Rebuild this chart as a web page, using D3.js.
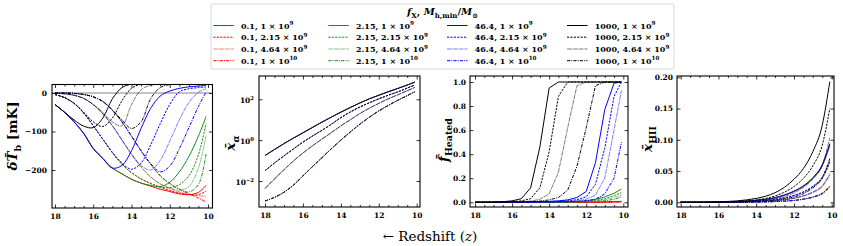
<!DOCTYPE html>
<html><head><meta charset="utf-8">
<script src="https://cdn.jsdelivr.net/npm/d3@7"></script>
<style>body{margin:0;background:#fff}svg{display:block}</style>
</head><body>
<svg id="c" width="843" height="246"></svg>
<script>
// ---------------- DATA ----------------
const redshift = [18,17.5,17,16.5,16,15.5,15,14.5,14,13.5,13,12.5,12,11.5,11,10.5,10.1];
const fXLabels = ["0.1","2.15","46.4","1000"];
const mMinMantissa = ["1","2.15","4.64","1"];
const mMinExponent = ["9","9","9","10"];

// delta T_b [mK]; rows: Mmin = 1e9, 2.15e9, 4.64e9, 1e10
const dTb_fX0p1 = [
 [-30,-50,-75,-105,-144,-170,-195,-210,-224,-234,-242,-250,-256,-262,-264,-258,-240],
 [-4,-12,-27,-52,-85,-120,-155,-185,-207,-223,-235,-245,-253,-260,-264,-264,-255],
 [-1,-2,-6,-14,-30,-54,-85,-122,-160,-192,-218,-236,-248,-257,-263,-267,-268],
 [0,0,-1,-4,-10,-22,-45,-75,-112,-150,-185,-215,-235,-250,-262,-273,-283]];
const dTb_fX2p15 = [
 [-30,-50,-75,-105,-144,-170,-195,-210,-224,-234,-240,-243,-232,-205,-165,-112,-61],
 [-4,-12,-27,-52,-85,-120,-155,-185,-207,-223,-235,-244,-246,-238,-215,-160,-79],
 [-1,-2,-6,-14,-30,-54,-85,-122,-160,-192,-218,-236,-247,-252,-243,-195,-110],
 [0,0,-1,-4,-10,-22,-45,-75,-112,-150,-185,-215,-235,-250,-257,-238,-157]];
const dTb_fX46p4 = [
 [-30,-50,-75,-105,-144,-170,-195,-188,-150,-92,-40,-8,5,12,16,18,20],
 [-4,-12,-27,-52,-85,-120,-154,-182,-198,-182,-135,-80,-30,3,11,14,16],
 [-1,-2,-6,-14,-30,-54,-85,-122,-158,-188,-200,-175,-125,-70,-25,2,11],
 [0,0,-1,-4,-10,-22,-45,-75,-112,-150,-183,-205,-190,-145,-90,-35,3]];
const dTb_fX1000 = [
 [-30,-50,-70,-86,-90,-65,-15,14,23,25,26,26,26,25,25,24,23],
 [-4,-12,-27,-50,-75,-87,-65,-20,12,23,25,26,26,25,25,24,23],
 [-1,-2,-6,-14,-30,-50,-75,-85,-30,8,20,24,25,25,25,24,23],
 [0,0,-1,-4,-10,-22,-44,-70,-92,-75,-15,14,22,25,25,24,23]];

// x_alpha (independent of fX); rows: Mmin
const xAlpha = [
 [0.178,0.347,0.676,1.26,2.29,4.17,7.59,13.5,23.4,39.8,66.1,105,158,234,339,501,692],
 [0.0316,0.0759,0.17,0.372,0.794,1.58,3.02,6.03,12.6,24.0,41.7,67.6,105,158,229,355,501],
 [0.00427,0.0126,0.0355,0.0955,0.234,0.525,1.12,2.34,5.01,10,20,36.3,63.1,105,166,263,380],
 [0.00105,0.00158,0.00282,0.00631,0.0178,0.0501,0.138,0.38,1.0,2.51,6.03,13.2,26.9,50.1,89.1,151,234]];

// f_Heated
const fHeated_fX0p1 = [
 [0,0,0,0,0,0,0,0,0,0,0,0,0.001,0.002,0.003,0.005,0.008],
 [0,0,0,0,0,0,0,0,0,0,0,0,0,0.001,0.002,0.004,0.006],
 [0,0,0,0,0,0,0,0,0,0,0,0,0,0.001,0.001,0.003,0.004],
 [0,0,0,0,0,0,0,0,0,0,0,0,0,0,0.001,0.002,0.003]];
const fHeated_fX2p15 = [
 [0,0,0,0,0,0,0,0.001,0.002,0.003,0.004,0.006,0.012,0.025,0.045,0.075,0.11],
 [0,0,0,0,0,0,0,0,0.001,0.002,0.003,0.005,0.009,0.017,0.03,0.055,0.08],
 [0,0,0,0,0,0,0,0,0,0.001,0.002,0.004,0.007,0.012,0.02,0.04,0.06],
 [0,0,0,0,0,0,0,0,0,0,0.001,0.002,0.004,0.007,0.012,0.025,0.045]];
const fHeated_fX46p4 = [
 [0,0,0,0,0.001,0.002,0.003,0.005,0.008,0.012,0.02,0.04,0.09,0.33,0.77,0.99,1.0],
 [0,0,0,0,0,0.001,0.002,0.003,0.005,0.008,0.013,0.022,0.045,0.15,0.45,0.88,1.0],
 [0,0,0,0,0,0,0.001,0.002,0.003,0.005,0.008,0.013,0.025,0.06,0.2,0.6,0.93],
 [0,0,0,0,0,0,0,0.001,0.002,0.003,0.005,0.008,0.013,0.025,0.07,0.2,0.5]];
const fHeated_fX1000 = [
 [0,0,0.002,0.005,0.012,0.03,0.12,0.46,0.95,1,1,1,1,1,1,1,1],
 [0,0,0.001,0.002,0.005,0.012,0.03,0.12,0.42,0.88,1,1,1,1,1,1,1],
 [0,0,0,0.001,0.002,0.005,0.01,0.025,0.07,0.25,0.62,0.97,1,1,1,1,1],
 [0,0,0,0,0.001,0.002,0.005,0.01,0.02,0.04,0.1,0.3,0.62,0.97,1,1,1]];

// x_HII
const xHII_fX0p1 = [
 [0,0,0.0001,0.0002,0.0004,0.0006,0.0011,0.0018,0.0029,0.0046,0.0073,0.0114,0.0173,0.0255,0.0382,0.0582,0.091],
 [0,0,0,0.0001,0.0002,0.0003,0.0006,0.001,0.0016,0.0026,0.0043,0.0068,0.0106,0.0161,0.0246,0.0384,0.063],
 [0,0,0,0,0.0001,0.0002,0.0003,0.0005,0.0009,0.0014,0.0024,0.0039,0.0062,0.0099,0.0155,0.0249,0.043],
 [0,0,0,0,0,0,0.0001,0.0002,0.0003,0.0006,0.0011,0.0018,0.0029,0.0048,0.0079,0.0134,0.024]];
const xHII_fX2p15 = [
 [0,0,0.0001,0.0002,0.0004,0.0006,0.0011,0.0018,0.0029,0.0046,0.0074,0.0115,0.0175,0.0258,0.0386,0.0589,0.092],
 [0,0,0,0.0001,0.0002,0.0004,0.0006,0.001,0.0017,0.0027,0.0044,0.0069,0.0108,0.0163,0.025,0.039,0.064],
 [0,0,0,0,0.0001,0.0002,0.0003,0.0005,0.0009,0.0015,0.0025,0.004,0.0064,0.0101,0.0158,0.0255,0.044],
 [0,0,0,0,0,0,0.0001,0.0002,0.0004,0.0006,0.0011,0.0019,0.003,0.005,0.0083,0.014,0.025]];
const xHII_fX46p4 = [
 [0,0,0.0001,0.0002,0.0004,0.0007,0.0011,0.0019,0.003,0.0047,0.0075,0.0118,0.0179,0.0263,0.0395,0.0602,0.094],
 [0,0,0,0.0001,0.0002,0.0004,0.0006,0.0011,0.0017,0.0028,0.0045,0.0071,0.0111,0.0168,0.0257,0.0403,0.066],
 [0,0,0,0,0.0001,0.0002,0.0003,0.0006,0.0009,0.0015,0.0026,0.0041,0.0067,0.0106,0.0166,0.0267,0.046],
 [0,0,0,0,0,0,0.0001,0.0002,0.0004,0.0007,0.0012,0.002,0.0031,0.0052,0.0086,0.0146,0.026]];
const xHII_fX1000 = [
 [0,0.0001,0.0002,0.0004,0.0008,0.0014,0.0023,0.0039,0.0062,0.0097,0.0154,0.0241,0.0367,0.054,0.081,0.1235,0.193],
 [0,0,0.0001,0.0002,0.0005,0.0008,0.0014,0.0024,0.0039,0.0063,0.0102,0.0162,0.0252,0.0383,0.0585,0.0915,0.15],
 [0,0,0,0.0001,0.0002,0.0004,0.0007,0.0012,0.0021,0.0034,0.0058,0.0093,0.0149,0.0237,0.0371,0.0597,0.103],
 [0,0,0,0,0.0001,0.0001,0.0003,0.0006,0.001,0.0018,0.0032,0.0053,0.0084,0.014,0.0231,0.0392,0.07]];

// tick labels
const xTickValues = [18,16,14,12,10];
const dTbTicks = [0,-100,-200];
const xAlphaTicks = [1e-2,1,1e2];
const fHeatedTicks = [0,0.2,0.4,0.6,0.8,1.0];
const xHIITicks = [0,0.05,0.10,0.15,0.20];

// ---------------- STYLE / LAYOUT ----------------
const colors = ["#ff0000","#1a8a1a","#0000ff","#000000"];
const lineStyles = [
  {dash:null, op:1},
  {dash:"2.2,1.2", op:1},
  {dash:"5,0.8", op:0.5},
  {dash:"3.2,1.1,1,1.1", op:1}
];
const tickFont = "'DejaVu Serif', serif";
const svg = d3.select("#c");
const defs = svg.append("defs");

function rich(textSel, parts, fs){
  let shift = 0;
  parts.forEach(p=>{
    const t = textSel.append("tspan").text(p.t);
    if(p.i) t.attr("font-style","italic");
    let target = 0, size = fs;
    if(p.sub){ target = fs*0.28; size = fs*0.7; }
    if(p.sup){ target = -fs*0.42; size = fs*0.7; }
    t.attr("font-size", size);
    if(target !== shift){ t.attr("dy", target - shift); shift = target; }
  });
}

const panelDefs = [
  {id:"p1", L:52, R:212.5, T:84.5, B:208, x18:55, x10:208,
   y: d3.scaleLinear().domain([0,-200]).range([93,170]),
   ticks:dTbTicks, fmt:d3.format("d"), padL:5,
   sets:[dTb_fX0p1,dTb_fX2p15,dTb_fX46p4,dTb_fX1000], curve:d3.curveCatmullRom.alpha(0.5)},
  {id:"p2", L:259, R:420, T:76, B:207, x18:265, x10:416.7,
   y: d3.scaleLog().domain([1e-2,1e2]).range([181,99.3]),
   ticks:xAlphaTicks, fmt:null, padL:5,
   sets:[xAlpha,xAlpha,xAlpha,xAlpha], curve:d3.curveCatmullRom.alpha(0.5)},
  {id:"p3", L:470, R:628, T:76, B:207, x18:475, x10:623.3,
   y: d3.scaleLinear().domain([0,1]).range([202.3,82]),
   ticks:fHeatedTicks, fmt:d3.format(".1f"), padL:4,
   sets:[fHeated_fX0p1,fHeated_fX2p15,fHeated_fX46p4,fHeated_fX1000], curve:d3.curveLinear},
  {id:"p4", L:677, R:834, T:76, B:207, x18:680.7, x10:831.7,
   y: d3.scaleLinear().domain([0,0.2]).range([202.3,77.3]),
   ticks:xHIITicks, fmt:d3.format(".2f"), padL:4,
   sets:[xHII_fX0p1,xHII_fX2p15,xHII_fX46p4,xHII_fX1000], curve:d3.curveMonotoneX}
];

panelDefs.forEach(P=>{
  const x = d3.scaleLinear().domain([18,10]).range([P.x18,P.x10]);
  const y = P.y;
  const g = svg.append("g");
  defs.append("clipPath").attr("id","clip-"+P.id)
    .append("rect").attr("x",P.L).attr("y",P.T).attr("width",P.R-P.L).attr("height",P.B-P.T);
  const plot = g.append("g").attr("clip-path","url(#clip-"+P.id+")");

  if(P.id==="p1"){
    plot.append("line").attr("x1",P.L).attr("x2",P.R).attr("y1",y(0)).attr("y2",y(0))
      .attr("stroke","#9a9a9a").attr("stroke-width",1.4).attr("opacity",0.8);
  }
  const line = d3.line().x((d,i)=>x(redshift[i])).y(d=>y(d)).curve(P.curve);
  P.sets.forEach((set,ci)=>{
    set.forEach((vals,mi)=>{
      const st = lineStyles[mi];
      plot.append("path").attr("d", line(vals)).attr("fill","none")
        .attr("stroke",colors[ci]).attr("stroke-width",1)
        .attr("stroke-opacity", P.id==="p2" ? 0.7*st.op : st.op)
        .attr("stroke-dasharray", st.dash);
    });
  });

  // axes (inward ticks on all sides)
  const minor = d3.range(10,18.01,0.5).filter(v=>!xTickValues.includes(v));
  const axB = d3.axisBottom(x).tickValues(xTickValues).tickSize(-3.5).tickPadding(6).tickFormat(d3.format("d"));
  const axBm = d3.axisBottom(x).tickValues(minor).tickSize(-2).tickFormat("");
  const axT = d3.axisTop(x).tickValues(xTickValues).tickSize(-3.5).tickFormat("");
  const axTm = d3.axisTop(x).tickValues(minor).tickSize(-2).tickFormat("");
  const axL = d3.axisLeft(y).tickValues(P.ticks).tickSize(-3.5).tickPadding(P.padL);
  if(P.fmt) axL.tickFormat(P.fmt); else axL.tickFormat("");
  const axR = d3.axisRight(y).tickValues(P.ticks).tickSize(-3.5).tickFormat("");
  g.append("g").attr("transform",`translate(0,${P.B})`).call(axB);
  g.append("g").attr("transform",`translate(0,${P.B})`).call(axBm);
  g.append("g").attr("transform",`translate(0,${P.T})`).call(axT);
  g.append("g").attr("transform",`translate(0,${P.T})`).call(axTm);
  const gL = g.append("g").attr("transform",`translate(${P.L},0)`).call(axL);
  g.append("g").attr("transform",`translate(${P.R},0)`).call(axR);
  g.selectAll(".domain").remove();
  g.selectAll(".tick line").attr("stroke","#000").attr("stroke-width",0.8);
  g.selectAll(".tick text").attr("font-family",tickFont).attr("font-weight","bold")
    .attr("font-size",7.5).attr("fill","#000");
  if(!P.fmt){
    gL.selectAll(".tick text").each(function(d){
      const t = d3.select(this);
      const e = Math.round(Math.log10(d));
      rich(t, [{t:"10"},{t:String(e).replace("-","−"),sup:true}], 7.5);
      t.attr("dy","0.45em");
    });
  }
  g.append("rect").attr("x",P.L).attr("y",P.T).attr("width",P.R-P.L).attr("height",P.B-P.T)
    .attr("fill","none").attr("stroke","#000").attr("stroke-width",1.1);
});

// y labels
const labFont = "'DejaVu Serif', serif";
function yLabel(cx, cy, parts, fs){
  const t = svg.append("text").attr("transform",`translate(${cx},${cy}) rotate(-90)`)
    .attr("text-anchor","middle").attr("font-family",labFont).attr("font-weight","bold")
    .attr("font-size",fs).attr("fill","#000");
  rich(t, parts, fs);
}
yLabel(17, 136, [{t:"δ",i:true},{t:"T\u0304",i:true},{t:"b",sub:true},{t:" [mK]"}], 13.5);
yLabel(235, 143, [{t:"x\u0304",i:true},{t:"α",i:true,sub:true}], 13.5);
yLabel(448, 140, [{t:"f\u0304",i:true},{t:"Heated",sub:true}], 13.5);
yLabel(652, 139, [{t:"x\u0304",i:true},{t:"HII",sub:true}], 13.5);

// x title
const xt = svg.append("text").attr("x",430).attr("y",241).attr("text-anchor","middle")
  .attr("font-family",labFont).attr("font-size",13.5).attr("fill","#000");
rich(xt, [{t:"← Redshift ("},{t:"z",i:true},{t:")"}], 13.5);

// legend
const lg = svg.append("g");
lg.append("rect").attr("x",211).attr("y",4).attr("width",463).attr("height",65).attr("rx",2)
  .attr("fill","#fff").attr("stroke","#d8d8d8").attr("stroke-width",1);
const lt = lg.append("text").attr("x",442.5).attr("y",15).attr("text-anchor","middle")
  .attr("font-family",labFont).attr("font-weight","bold").attr("font-size",10).attr("fill","#000");
rich(lt, [{t:"f",i:true},{t:"X",sub:true},{t:", "},{t:"M",i:true},{t:"h,min",sub:true},{t:"/"},{t:"M",i:true},{t:"⊙",sub:true}], 10);
const legColX = [213.3, 328.3, 447, 567];
const legRowY = [25.5, 37.2, 49, 60.7];
fXLabels.forEach((fx,ci)=>{
  mMinMantissa.forEach((mm,mi)=>{
    const st = lineStyles[mi];
    lg.append("line").attr("x1",legColX[ci]).attr("x2",legColX[ci]+20.5)
      .attr("y1",legRowY[mi]).attr("y2",legRowY[mi])
      .attr("stroke",colors[ci]).attr("stroke-width",1).attr("stroke-opacity",st.op)
      .attr("stroke-dasharray",st.dash);
    const t = lg.append("text").attr("x",legColX[ci]+27.7).attr("y",legRowY[mi]+3)
      .attr("font-family",labFont).attr("font-weight","bold").attr("font-size",8).attr("fill","#000");
    rich(t, [{t:`${fx}, ${mm} × 10`},{t:mMinExponent[mi],sup:true}], 8);
  });
});
</script>
</body></html>
